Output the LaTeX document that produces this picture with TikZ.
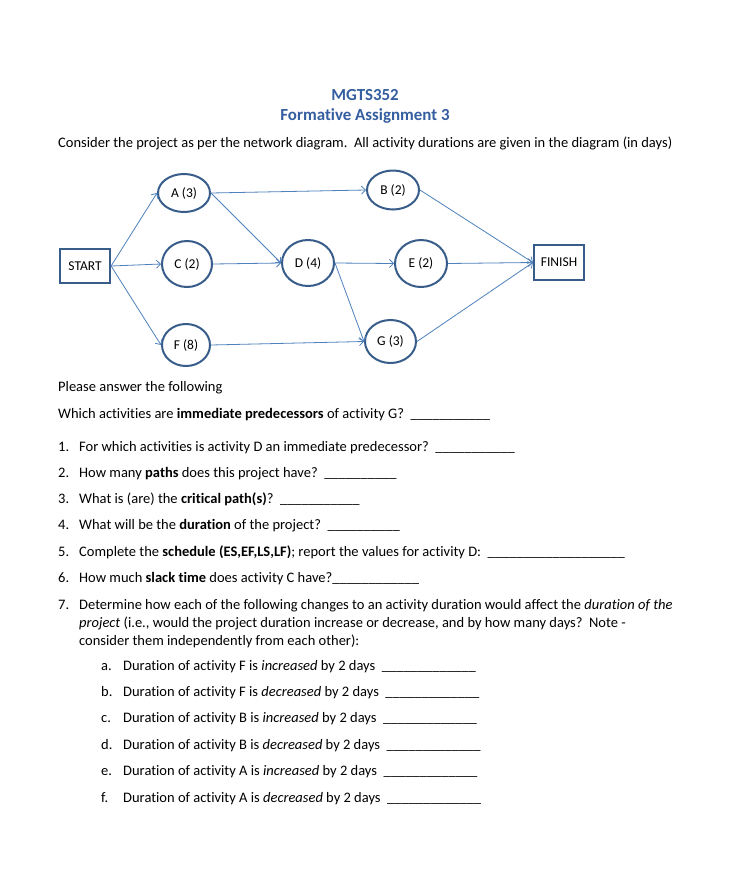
\documentclass[tikz,border=0pt]{standalone}
\usepackage{fontspec}
\setmainfont{Carlito}[Ligatures=NoCommon]
\usetikzlibrary{arrows.meta,shapes.geometric}
\definecolor{titleblue}{RGB}{52,94,160}
\definecolor{nodeblue}{RGB}{56,93,138}
\definecolor{linkblue}{RGB}{79,129,189}
\newcommand{\blank}[1]{\foreach \i in {1,...,#1}{\_}}
\begin{document}
\begin{tikzpicture}[x=1pt,y=-1pt,
  txt/.style={anchor=base west, inner sep=0pt, font=\fontsize{14.5}{17}\selectfont},
  ttl/.style={anchor=base, inner sep=0pt, font=\fontsize{16.9}{20}\selectfont\bfseries, text=titleblue},
  act/.style={ellipse, draw=nodeblue, line width=2pt, inner sep=0pt, font=\fontsize{13.5}{15}\selectfont},
  endbox/.style={rectangle, draw=nodeblue, line width=2.2pt, inner sep=0pt, font=\fontsize{13.5}{15}\selectfont},
  link/.style={draw=linkblue, line width=0.8pt, -{Straight Barb[length=4pt,width=8pt]}}
]
\fill[white] (0,0) rectangle (733,876);

% titles
\node[ttl] (t1) at (365,100) {MGTS352};
\node[ttl] (t2) at (365,120) {Formative Assignment 3};
\node[txt] (intro) at (58,147) {Consider the project as per the network diagram.\ \ All activity durations are given in the diagram (in days)};

% network
\node[endbox, minimum width=50pt, minimum height=34pt] (start) at (85,266) {START};
\node[act, minimum width=52pt, minimum height=38pt] (A) at (184,193) {A (3)};
\node[act, minimum width=50pt, minimum height=46pt] (C) at (187,264) {C (2)};
\node[act, minimum width=48pt, minimum height=42pt] (F) at (186,345) {F (8)};
\node[act, minimum width=52pt, minimum height=46pt] (D) at (308,263) {D (4)};
\node[act, minimum width=52pt, minimum height=39pt] (B) at (393,190) {B (2)};
\node[act, minimum width=52pt, minimum height=47pt] (E) at (421,263.5) {E (2)};
\node[act, minimum width=51pt, minimum height=43pt] (G) at (390.5,341.5) {G (3)};
\node[endbox, minimum width=50pt, minimum height=35pt] (finish) at (559,262.5) {FINISH};

\draw[link] (start.east) -- (A.west);
\draw[link] (start.east) -- (C.west);
\draw[link] (start.east) -- (F.west);
\draw[link] (A.east) -- (B.west);
\draw[link] (A.east) -- (D.west);
\draw[link] (C.east) -- (D.west);
\draw[link] (D.east) -- (E.west);
\draw[link] (D.east) -- (G.west);
\draw[link] (F.east) -- (G.west);
\draw[link] (B.east) -- (finish.west);
\draw[link] (E.east) -- (finish.west);
\draw[link] (G.east) -- (finish.west);

% questions
\node[txt] (p) at (58,391) {Please answer the following};
\node[txt] (q0) at (58,418) {Which activities are \textbf{immediate predecessors} of activity G?\ \ \blank{11}};

\node[txt] (n1) at (58,451) {1.};
\node[txt] (q1) at (79,451) {For which activities is activity D an immediate predecessor?\ \ \blank{11}};
\node[txt] (n2) at (58,477) {2.};
\node[txt] (q2) at (79,477) {How many \textbf{paths} does this project have?\ \ \blank{10}};
\node[txt] (n3) at (58,503) {3.};
\node[txt] (q3) at (79,503) {What is (are) the \textbf{critical path(s)}?\ \ \blank{11}};
\node[txt] (n4) at (58,529) {4.};
\node[txt] (q4) at (79,529) {What will be the \textbf{duration} of the project?\ \ \blank{10}};
\node[txt] (n5) at (58,556) {5.};
\node[txt] (q5) at (79,556) {Complete the \textbf{schedule (ES,EF,LS,LF)}; report the values for activity D:\ \ \blank{19}};
\node[txt] (n6) at (58,582) {6.};
\node[txt] (q6) at (79,582) {How much \textbf{slack time} does activity C have?\blank{12}};
\node[txt] (n7) at (58,609) {7.};
\node[txt] (q7a) at (79,609) {Determine how each of the following changes to an activity duration would affect the \textit{duration of the}};
\node[txt] (q7b) at (79,627) {\textit{project} (i.e., would the project duration increase or decrease, and by how many days?\ \ Note -};
\node[txt] (q7c) at (79,645) {consider them independently from each other):};

\node[txt] (la) at (101,670) {a.};
\node[txt] (sa) at (123,670) {Duration of activity F is \textit{increased} by 2 days\ \ \blank{13}};
\node[txt] (lb) at (101,696) {b.};
\node[txt] (sb) at (123,696) {Duration of activity F is \textit{decreased} by 2 days\ \ \blank{13}};
\node[txt] (lc) at (101,722) {c.};
\node[txt] (sc) at (123,722) {Duration of activity B is \textit{increased} by 2 days\ \ \blank{13}};
\node[txt] (ld) at (101,749) {d.};
\node[txt] (sd) at (123,749) {Duration of activity B is \textit{decreased} by 2 days\ \ \blank{13}};
\node[txt] (le) at (101,775) {e.};
\node[txt] (se) at (123,775) {Duration of activity A is \textit{increased} by 2 days\ \ \blank{13}};
\node[txt] (lf) at (101,802) {f.};
\node[txt] (sf) at (123,802) {Duration of activity A is \textit{decreased} by 2 days\ \ \blank{13}};
\end{tikzpicture}
\end{document}
